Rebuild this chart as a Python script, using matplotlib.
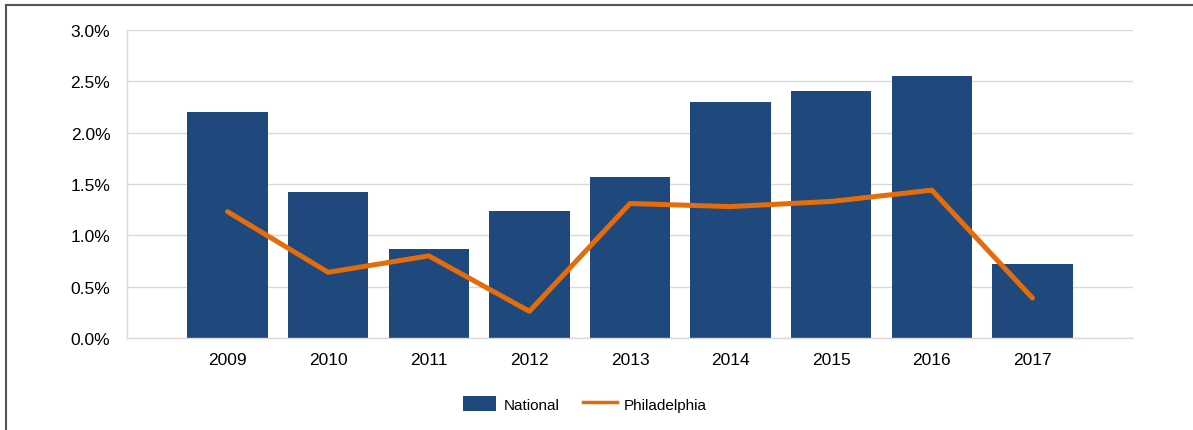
import matplotlib
matplotlib.use("Agg")
import matplotlib.pyplot as plt
from matplotlib.ticker import FuncFormatter
from matplotlib.lines import Line2D
from matplotlib.patches import Patch

years = ["2009", "2010", "2011", "2012", "2013", "2014", "2015", "2016", "2017"]
national = [2.20, 1.42, 0.87, 1.24, 1.57, 2.30, 2.41, 2.55, 0.72]
philadelphia = [1.23, 0.64, 0.80, 0.26, 1.31, 1.28, 1.33, 1.44, 0.39]

plt.rcParams['font.family'] = ['Liberation Sans', 'DejaVu Sans']

W, H = 1193, 431
fig = plt.figure(figsize=(W / 100, H / 100), dpi=100)
ax = fig.add_axes([127 / W, 1 - 339 / H, (1133 - 127) / W, (339 - 31) / H])

x = list(range(len(years)))
bar_color = "#1F497D"
line_color = "#E46C0A"
ax.bar(x, national, width=0.8, color=bar_color, zorder=2)
ax.plot(x, philadelphia, color=line_color, linewidth=3.6, solid_capstyle='round', zorder=3)

ax.set_xlim(-1, len(years))
ax.set_ylim(0, 3.0)
ax.set_yticks([0, 0.5, 1.0, 1.5, 2.0, 2.5, 3.0])
ax.yaxis.set_major_formatter(FuncFormatter(lambda v, p: f"{v:.1f}%"))
ax.set_xticks(x)
ax.set_xticklabels(years)
ax.tick_params(axis='both', length=0, labelsize=12.5, colors='#000000')
ax.tick_params(axis='y', pad=12)
ax.tick_params(axis='x', pad=10)
ax.grid(axis='y', color='#D9D9D9', linewidth=1, zorder=0)
ax.set_axisbelow(True)
for s in ['top', 'right']:
    ax.spines[s].set_visible(False)
for s in ['left', 'bottom']:
    ax.spines[s].set_color('#D9D9D9')
    ax.spines[s].set_linewidth(1)

handles = [Patch(facecolor=bar_color, label='National'),
           Line2D([0], [0], color=line_color, linewidth=2.5, label='Philadelphia')]
fig.legend(handles=handles, loc='center', bbox_to_anchor=(585 / W, 1 - 405 / H), ncol=2,
           frameon=False, fontsize=11, handlelength=2.2, handleheight=1.1, columnspacing=1.5,
           handletextpad=0.5)

# figure border (left and top)
fig.add_artist(Line2D([6 / W, 6 / W], [0, 1 - 6 / H], transform=fig.transFigure, color='#555555', linewidth=1.5))
fig.add_artist(Line2D([6 / W, 1], [1 - 6 / H, 1 - 6 / H], transform=fig.transFigure, color='#555555', linewidth=1.5))

fig.savefig("out.png", dpi=100)
